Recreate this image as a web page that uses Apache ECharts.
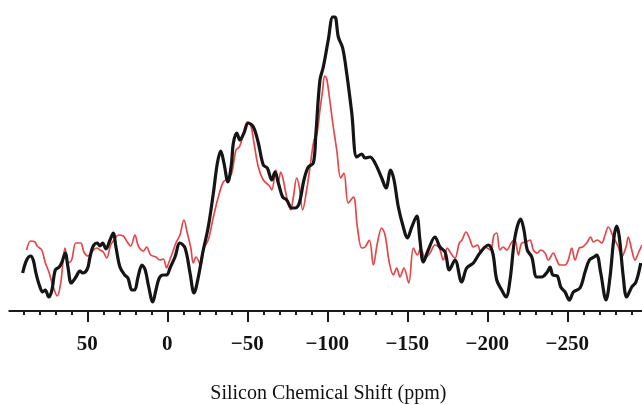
<!DOCTYPE html>
<html>
<head>
<meta charset="utf-8">
<script src="https://cdn.jsdelivr.net/npm/echarts@6/dist/echarts.min.js"></script>
<style>
html,body{margin:0;padding:0;background:#fff;}
#chart{width:642px;height:405px;}
</style>
</head>
<body>
<div id="chart"></div>
<script>
// Chemical shift (ppm) and intensity (arbitrary units) — black spectrum
var blackPpm = [90.4,87.9,85.4,83.8,82.1,80,77.9,76.3,74.1,72.1,70,67.5,65.8,63.8,62.1,60,57.1,54.6,52.9,50,48.3,46.3,43.8,42.1,40.4,38.3,35.8,33.8,32.1,29.6,26.6,24.6,22.1,20.4,18.3,15.8,13.8,11.6,9.1,7.1,5,2.5,0.4,-1.7,-4.8,-7.9,-11.1,-14.2,-16.7,-19.4,-22.1,-25.6,-28.8,-31.3,-33.4,-35.4,-37.9,-40,-41.3,-43.4,-45.4,-47.9,-50.6,-53.8,-56.9,-60,-62.5,-65.3,-67.3,-69.4,-72.1,-74.6,-77.8,-79.8,-82.5,-85.4,-88.1,-91.3,-92.9,-95.4,-97.5,-100.6,-103.4,-104.8,-106.9,-109.6,-112.1,-115.3,-118.4,-121.5,-123.6,-126.7,-129.8,-134,-136.7,-139.6,-141.7,-144.4,-147.5,-150,-152.8,-155.9,-157.9,-160,-163.1,-167.3,-170.4,-173.6,-176.3,-179.8,-184,-187.1,-191.3,-195.4,-200.6,-203.4,-205.9,-209,-211.7,-214.2,-217.3,-220.9,-222.9,-225,-227.8,-230.9,-234,-237.5,-239.2,-240.9,-243.8,-245.9,-248.6,-251.3,-253.8,-257.9,-261.1,-263.8,-266.7,-268.4,-270.9,-274.2,-276.7,-279.2,-280.9,-282.5,-285,-287.1,-290.3,-292.9,-295.9];
var blackInt = [38,51,55,51,38,26,19,21,14,21,41,44,49,58,44,28,34,40,38,42,54,65,68,65,68,62,71,78,64,44,36,33,21,21,34,46,41,24,9,21,33,36,36,43,54,68,63,38,18,34,58,84,118,148,160,148,129,146,168,178,171,178,188,184,168,146,143,131,139,128,114,111,103,103,108,131,144,148,178,231,244,271,294,294,274,263,238,198,154,157,153,154,148,133,123,141,131,104,84,73,84,95,71,49,61,74,64,59,41,51,29,43,48,58,66,58,31,21,14,31,74,92,81,61,54,34,34,39,44,36,35,24,19,11,19,23,39,51,54,56,38,11,34,74,85,74,34,14,24,29,48];
// Red spectrum
var redPpm = [87.9,85.4,82.7,81.3,78.5,76.4,73.8,71.3,68.8,66.6,63.9,61.9,59.8,57.1,54.1,52.1,49.6,47.3,44.1,42.1,40,37.9,35.4,33.3,30.6,27.5,25.4,22.9,20.2,18.1,15,12.9,10.4,7.1,4.6,2.5,0.4,-0.6,-3.4,-5.4,-7.9,-10.4,-12.5,-14.6,-16.3,-17.9,-20.9,-22.9,-25.6,-28.8,-31.9,-35,-38.1,-40.3,-42.9,-45,-47.1,-50,-52.1,-54.2,-56.9,-60,-63.8,-65.3,-67.9,-69.4,-70.9,-72.5,-74.6,-77.1,-78.8,-80.9,-82.5,-84.6,-87.1,-89.2,-91.7,-93.4,-95.4,-97.1,-98.3,-99.5,-101.3,-103.4,-105.9,-108.4,-110.4,-113.1,-116.3,-118.8,-121.5,-123.6,-126.3,-128.8,-131.3,-134,-136.1,-138.8,-141.3,-143.4,-145.4,-147.9,-150.9,-153.8,-156.3,-158.4,-161.1,-164.2,-167.3,-170,-172.5,-175,-177.1,-179.8,-182.5,-184.2,-186.7,-188.8,-191.3,-193.8,-195.9,-197.9,-200,-202.1,-204.2,-205.9,-207.9,-210,-212.1,-215.3,-217.3,-219.4,-221.5,-224.2,-226.7,-228.8,-231.3,-233.4,-236.1,-238.1,-241.3,-243.4,-245.4,-248.6,-250.6,-252.8,-254.8,-257.5,-259.6,-262.1,-264.6,-266.3,-268.8,-271.5,-273.6,-275.6,-278.8,-281.9,-284,-286.7,-288.1,-290.3,-292.3,-294.4,-296.7];
var redInt = [61,70,69,65,61,49,38,24,15,28,63,48,51,68,68,59,55,59,63,61,59,53,66,71,76,75,70,65,76,65,60,64,56,54,51,52,43,47,59,68,76,91,78,64,48,54,46,63,71,94,114,129,133,138,161,164,174,189,186,168,144,131,125,121,141,129,139,131,114,101,114,133,124,101,121,144,171,176,201,221,235,233,214,188,161,133,138,108,114,84,63,64,71,46,68,83,76,48,36,43,34,43,28,63,56,63,53,58,66,63,51,63,58,53,68,71,79,73,64,66,59,64,63,61,76,78,61,64,61,69,71,56,68,69,71,61,58,61,58,51,58,51,46,46,51,63,51,63,64,68,74,69,71,68,76,84,74,64,54,64,74,61,51,58,66];
// Axis ticks
var majorTicks = [50, 0, -50, -100, -150, -200, -250];
var minorTicks = [90, 80, 70, 60, 40, 30, 20, 10, -10, -20, -30, -40, -60, -70, -80, -90, -110, -120, -130, -140, -160, -170, -180, -190, -210, -220, -230, -240, -260, -270, -280, -290];
var axisTitle = 'Silicon Chemical Shift (ppm)';

function pairs(xs, ys){ return xs.map(function(x,i){ return [x, ys[i]]; }); }

var axisColor = '#1a1a1a';
var chart = echarts.init(document.getElementById('chart'), null, {renderer:'canvas'});
chart.setOption({
  animation: false,
  backgroundColor: '#ffffff',
  grid: { left: 9.3, width: 638, top: 0, height: 311, containLabel: false, outerBoundsMode: 'none' },
  xAxis: [
    {
      type: 'value',
      inverse: true,
      min: -300,
      max: 98.75,
      position: 'bottom',
      splitLine: { show: false },
      axisLine: { show: true, onZero: false, lineStyle: { color: axisColor, width: 2 } },
      axisTick: { show: true, inside: false, length: 11, customValues: majorTicks, lineStyle: { color: axisColor, width: 2 } },
      axisLabel: {
        show: true,
        customValues: majorTicks,
        margin: 23,
        color: '#111',
        fontFamily: 'Liberation Serif',
        fontWeight: 'bold',
        fontSize: 21,
        formatter: function(v){
          return v < 0 ? '\u2212' + Math.abs(v) : String(v);
        }
      },
      name: axisTitle,
      nameLocation: 'middle',
      nameGap: 73,
      nameTextStyle: { color: '#111', fontFamily: 'Liberation Serif', fontSize: 20 }
    },
    {
      type: 'value',
      inverse: true,
      min: -300,
      max: 98.75,
      position: 'bottom',
      splitLine: { show: false },
      axisLine: { show: false, onZero: false },
      axisTick: { show: true, inside: false, length: 4, customValues: minorTicks, lineStyle: { color: axisColor, width: 2 } },
      axisLabel: { show: false }
    }
  ],
  yAxis: { type: 'value', min: 0, max: 311, show: false },
  series: [
    {
      type: 'line', data: pairs(redPpm, redInt), showSymbol: false, smooth: 0.35, clip: false,
      lineStyle: { color: '#e4484b', width: 1.7 }, z: 2
    },
    {
      type: 'line', data: pairs(blackPpm, blackInt), showSymbol: false, smooth: 0.35, clip: false,
      lineStyle: { color: '#151515', width: 3.2 }, z: 3
    }
  ]
});
</script>
</body>
</html>
